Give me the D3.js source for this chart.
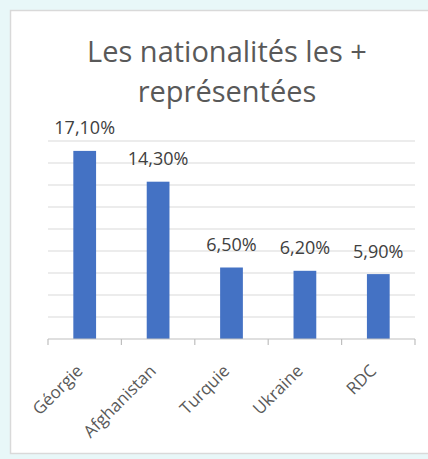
<!DOCTYPE html>
<html>
<head>
<meta charset="utf-8">
<script src="https://cdn.jsdelivr.net/npm/d3@7"></script>
<style>
  body { margin: 0; background: #e8f7f8; }
  svg { display: block; }
</style>
</head>
<body>
<div id="chart"></div>
<script>
var svgWidth = 428;
var svgHeight = 459;

// data
var pays = ["Géorgie", "Afghanistan", "Turquie", "Ukraine", "RDC"];
var parts = [17.1, 14.3, 6.5, 6.2, 5.9];
var etiquettes = ["17,10%", "14,30%", "6,50%", "6,20%", "5,90%"];
var titre = ["Les nationalités les +", "représentées"];

var margin = { top: 141, right: 13, bottom: 120, left: 48 };
var width = svgWidth - margin.left - margin.right;
var height = 339 - margin.top;

var svg = d3.select("#chart")
    .append("svg")
    .attr("width", svgWidth)
    .attr("height", svgHeight);

// panel
svg.append("rect")
    .attr("x", 10.5).attr("y", 10.5)
    .attr("width", svgWidth).attr("height", 443)
    .attr("fill", "#fff")
    .attr("stroke", "#d9d9d9")
    .attr("stroke-width", 1.5);

svg.selectAll(".titre")
    .data(titre)
    .join("text")
    .attr("class", "titre")
    .attr("x", 227)
    .attr("y", function(d, i) { return 62 + i * 40; })
    .attr("text-anchor", "middle")
    .style("font-family", "'Open Sans', sans-serif")
    .style("font-size", "29px")
    .attr("fill", "#595959")
    .text(function(d) { return d; });

var chartGroup = svg.append("g")
    .attr("transform", "translate(" + margin.left + "," + margin.top + ")");

var xScale = d3.scaleBand()
    .domain(pays)
    .range([0, width])
    .paddingInner(0.69)
    .paddingOuter(0.345);

var yScale = d3.scaleLinear()
    .domain([0, 18])
    .range([height, 0]);

// gridlines
chartGroup.append("g")
    .selectAll("line")
    .data(d3.range(2, 19, 2))
    .join("line")
    .attr("x1", 0).attr("x2", width)
    .attr("y1", function(d) { return yScale(d); })
    .attr("y2", function(d) { return yScale(d); })
    .attr("stroke", "#d9d9d9")
    .attr("stroke-width", 1);

chartGroup.selectAll(".bar")
    .data(parts)
    .join("rect")
    .attr("class", "bar")
    .attr("x", function(d, i) { return xScale(pays[i]); })
    .attr("y", function(d) { return yScale(d); })
    .attr("width", xScale.bandwidth())
    .attr("height", function(d) { return height - yScale(d); })
    .attr("fill", "#4472c4");

chartGroup.selectAll(".lbl")
    .data(parts)
    .join("text")
    .attr("class", "lbl")
    .attr("x", function(d, i) { return xScale(pays[i]) + xScale.bandwidth() / 2; })
    .attr("y", function(d) { return yScale(d) - 16.5; })
    .attr("text-anchor", "middle")
    .style("font-family", "'Open Sans', sans-serif")
    .style("font-size", "18px")
    .attr("fill", "#404040")
    .text(function(d, i) { return etiquettes[i]; });

// x axis with ticks between categories
var step = xScale.step();
var bottomAxis = chartGroup.append("g")
    .attr("transform", "translate(0," + height + ")");

bottomAxis.append("line")
    .attr("x1", 0).attr("x2", width)
    .attr("stroke", "#bfbfbf").attr("stroke-width", 1.2);

bottomAxis.selectAll(".tick")
    .data(d3.range(pays.length + 1))
    .join("line")
    .attr("class", "tick")
    .attr("x1", function(d) { return d * step; })
    .attr("x2", function(d) { return d * step; })
    .attr("y1", 0).attr("y2", 6)
    .attr("stroke", "#bfbfbf").attr("stroke-width", 1.2);

bottomAxis.selectAll(".cat")
    .data(pays)
    .join("text")
    .attr("class", "cat")
    .attr("text-anchor", "end")
    .attr("transform", function(d) {
        var cx = xScale(d) + xScale.bandwidth() / 2 - 1;
        return "translate(" + cx + ",33) rotate(-45)";
    })
    .style("font-family", "'Open Sans', sans-serif")
    .style("font-size", "17px")
    .attr("fill", "#595959")
    .text(function(d) { return d; });
</script>
</body>
</html>
